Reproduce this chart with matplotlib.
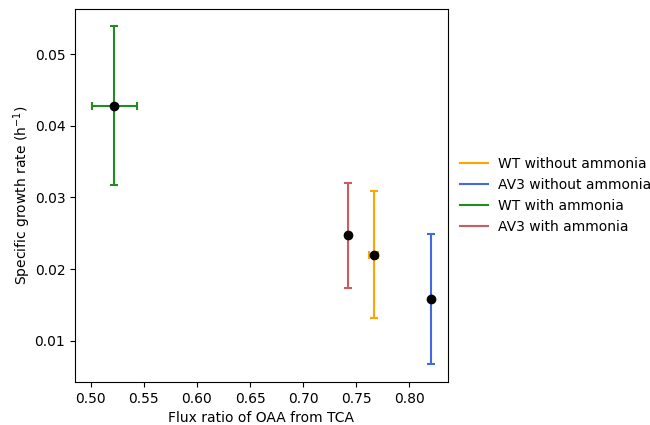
import matplotlib
matplotlib.use("Agg")
import matplotlib.pyplot as plt
from matplotlib.lines import Line2D

labels = ["WT without ammonia", "AV3 without ammonia", "WT with ammonia", "AV3 with ammonia"]
colors = ["orange", "royalblue", "forestgreen", "indianred"]
flux_ratio = [0.7665, 0.8207, 0.5222, 0.7426]
flux_err = [0.004, 0.0, 0.021, 0.0]
growth = [0.0220, 0.0158, 0.0428, 0.0247]
growth_err = [0.0089, 0.0091, 0.0111, 0.0073]

fig = plt.figure(figsize=(6.5, 4.25), dpi=100)
ax = fig.add_axes([0.1154, 0.1012, 0.5738, 0.8770])

for x, xe, y, ye, c in zip(flux_ratio, flux_err, growth, growth_err, colors):
    ax.errorbar(x, y, xerr=xe if xe > 0 else None, yerr=ye, fmt='none',
                ecolor=c, capsize=3, elinewidth=1.5, capthick=1.5)
    ax.plot(x, y, 'o', color='black', markersize=6, zorder=5)

ax.set_xlim(0.4852, 0.8364)
ax.set_ylim(0.00424, 0.05625)
ax.set_xticks([0.50, 0.55, 0.60, 0.65, 0.70, 0.75, 0.80])
ax.set_yticks([0.01, 0.02, 0.03, 0.04, 0.05])
ax.set_xlabel("Flux ratio of OAA from TCA")
ax.set_ylabel("Specific growth rate (h$^{-1}$)", labelpad=1)

handles = [Line2D([0], [0], color=c, lw=1.5) for c in colors]
ax.legend(handles, labels, loc='center left', bbox_to_anchor=(1.0, 0.5), frameon=False,
          handletextpad=0.7)

fig.savefig("out.png", dpi=100)
